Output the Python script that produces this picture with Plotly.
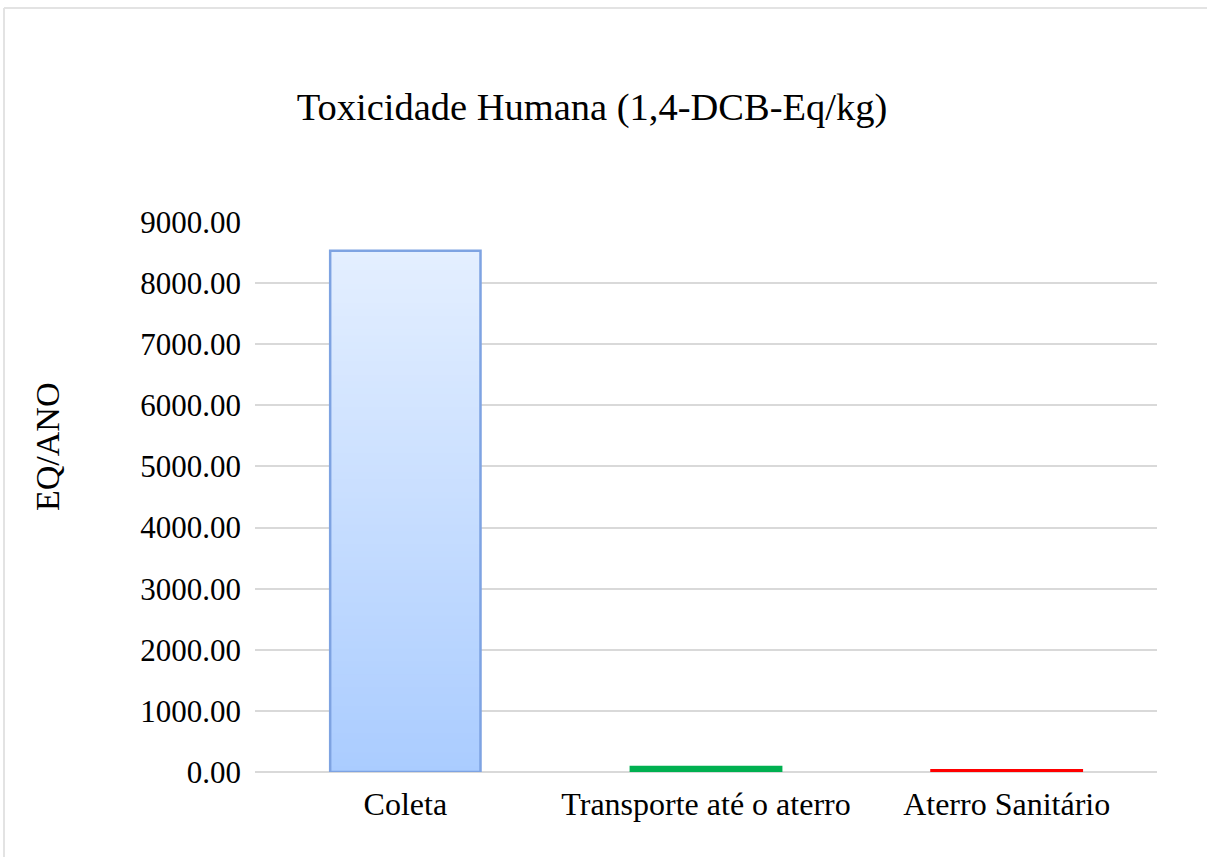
import plotly.graph_objects as go
import numpy as np

categories = ["Coleta", "Transporte até o aterro", "Aterro Sanitário"]
values = [8530.0, 80.0, 30.0]
tick_vals = [0, 1000, 2000, 3000, 4000, 5000, 6000, 7000, 8000, 9000]
tick_text = ["0.00", "1000.00", "2000.00", "3000.00", "4000.00", "5000.00",
             "6000.00", "7000.00", "8000.00", "9000.00"]
title_text = "Toxicidade Humana (1,4-DCB-Eq/kg)"
y_title = "EQ/ANO"

FONT = "Liberation Serif"
W, H = 1207, 857
L, R, T, B = 255, 50, 222, 85
pw, ph = W - L - R, H - T - B

def px_x(X):
    return (X - L) / pw

def px_y(Y):
    return (H - B - Y) / ph

fig = go.Figure()

# Gradient fill for the first bar, built as overlapping slices of its value
N = 80
v0 = values[0]
top_rgb = np.array([228, 239, 255])
bot_rgb = np.array([170, 204, 255])
seg_base = [v0 * i / N for i in range(N)]
seg_h = [min(2 * v0 / N, v0 - b) for b in seg_base]
seg_col = []
for i in range(N):
    t = (i + 0.5) / N
    c = bot_rgb + (top_rgb - bot_rgb) * t
    seg_col.append("rgb(%d,%d,%d)" % tuple(c.round().astype(int)))
fig.add_trace(go.Bar(
    x=[categories[0]] * N, y=seg_h, base=seg_base,
    marker=dict(color=seg_col, line=dict(width=0)),
    width=0.5, hoverinfo="skip", showlegend=False,
))
# Outline of first bar + other bars
fig.add_trace(go.Bar(
    x=categories, y=values,
    marker=dict(
        color=["rgba(0,0,0,0)", "#00b050", "#ff0000"],
        line=dict(color=["#7ea3e2", "#00b050", "#ff0000"], width=2.5),
    ),
    width=0.5, showlegend=False,
))

fig.update_layout(
    width=W, height=H,
    margin=dict(l=L, r=R, t=T, b=B),
    paper_bgcolor="white", plot_bgcolor="white",
    barmode="overlay",
    font=dict(family=FONT, size=31, color="#000000"),
    title=dict(text=title_text, x=592 / W, xref="container", xanchor="center",
               y=1 - 107 / H, yanchor="middle",
               font=dict(family=FONT, size=38.5, color="#000000")),
)
fig.update_yaxes(
    range=[0, 9000], tickvals=tick_vals, ticktext=tick_text,
    showgrid=True, gridcolor="#d9d9d9", gridwidth=1.5,
    zeroline=True, zerolinecolor="#d9d9d9", zerolinewidth=1.5,
    showline=False, ticks="", ticklabelstandoff=13,
    tickfont=dict(family=FONT, size=31, color="#000000"),
)
fig.update_xaxes(
    showline=False, ticks="", showgrid=False,
    tickfont=dict(family=FONT, size=32, color="#000000"),
    ticklabelstandoff=10,
)
fig.add_annotation(
    text=y_title, textangle=-90, xref="paper", yref="paper",
    x=px_x(47), y=px_y(447), xanchor="center", yanchor="middle",
    showarrow=False, font=dict(family=FONT, size=34, color="#000000"),
)
# outer frame lines
fig.add_shape(type="line", xref="paper", yref="paper",
              x0=px_x(4), x1=px_x(1207), y0=px_y(8), y1=px_y(8),
              line=dict(color="#e3e3e3", width=2))
fig.add_shape(type="line", xref="paper", yref="paper",
              x0=px_x(4), x1=px_x(4), y0=px_y(8), y1=px_y(857),
              line=dict(color="#e3e3e3", width=2))

fig.write_html("out.html", config={"displayModeBar": False},
               post_script="document.body.style.margin='0';")
